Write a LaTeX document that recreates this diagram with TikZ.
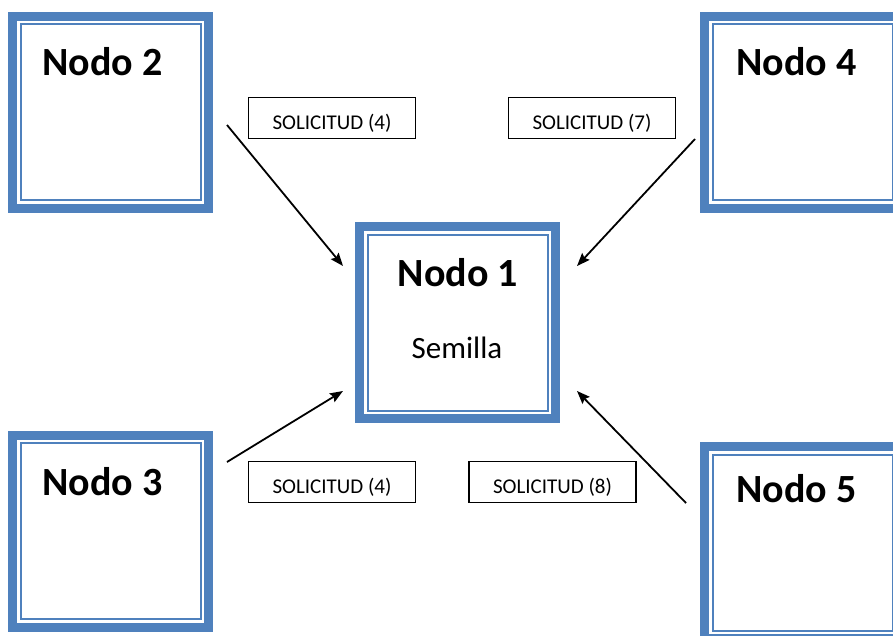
\documentclass[tikz,border=0pt]{standalone}
\usepackage{fontspec}
\setmainfont{Carlito}
\usetikzlibrary{arrows.meta}
\definecolor{nblue}{HTML}{4F81BD}
\tikzset{
  nodobox/.style={draw=nblue, line width=9pt, fill=white, inner sep=0pt,
    minimum width=196pt, minimum height=192pt,
    path picture={\draw[nblue, line width=2pt]
      ([shift={(8pt,8pt)}]path picture bounding box.south west) rectangle
      ([shift={(-8pt,-8pt)}]path picture bounding box.north east);}},
  titulo/.style={font=\fontsize{40}{44}\selectfont\bfseries, inner sep=0pt},
  subtitulo/.style={font=\fontsize{31}{36}\selectfont, inner sep=0pt},
  solbox/.style={draw=black, line width=1.3pt, inner sep=0pt,
    minimum width=167pt, minimum height=41pt,
    text height=26pt, text depth=4pt,
    font=\fontsize{21}{24}\selectfont},
  flecha/.style={line width=1.8pt, -{Stealth[length=13pt, width=10pt, inset=2pt]}}
}
\begin{document}
\begin{tikzpicture}[x=1pt, y=-1pt]
\useasboundingbox (0,0) rectangle (893,635);
\clip (0,0) rectangle (893,635);

% boxes of the five nodes
\node[nodobox] (n1) at (457.5,322.5) {};
\node[nodobox] (n2) at (110.5,112) {};
\node[nodobox] (n3) at (110.5,531) {};
\node[nodobox] (n4) at (802.5,112) {};
\node[nodobox] (n5) at (802.5,542.5) {};

% titles
\node[titulo, anchor=base] (t1) at (458,286) {Nodo 1};
\node[subtitulo, anchor=base] (s1) at (457,358) {Semilla};
\node[titulo, anchor=base west] (t2) at (42,75) {Nodo 2};
\node[titulo, anchor=base west] (t3) at (42,495) {Nodo 3};
\node[titulo, anchor=base west] (t4) at (736,75) {Nodo 4};
\node[titulo, anchor=base west] (t5) at (736,502) {Nodo 5};

% request labels
\node[solbox] (l24) at (332,118) {SOLICITUD (4)};
\node[solbox] (l47) at (592,118) {SOLICITUD (7)};
\node[solbox] (l34) at (332,482) {SOLICITUD (4)};
\node[solbox] (l58) at (552.5,482) {SOLICITUD (8)};

% arrow end points
\coordinate (a2) at (227,125);
\coordinate (b2) at (343,266);
\coordinate (a4) at (695,139);
\coordinate (b4) at (577,266);
\coordinate (a3) at (227,462);
\coordinate (b3) at (343,391);
\coordinate (a5) at (686,503);
\coordinate (b5) at (577,391);

% requests towards the seed node
\draw[flecha] (a2) -- (b2);
\draw[flecha] (a4) -- (b4);
\draw[flecha] (a3) -- (b3);
\draw[flecha] (a5) -- (b5);
\end{tikzpicture}
\end{document}
